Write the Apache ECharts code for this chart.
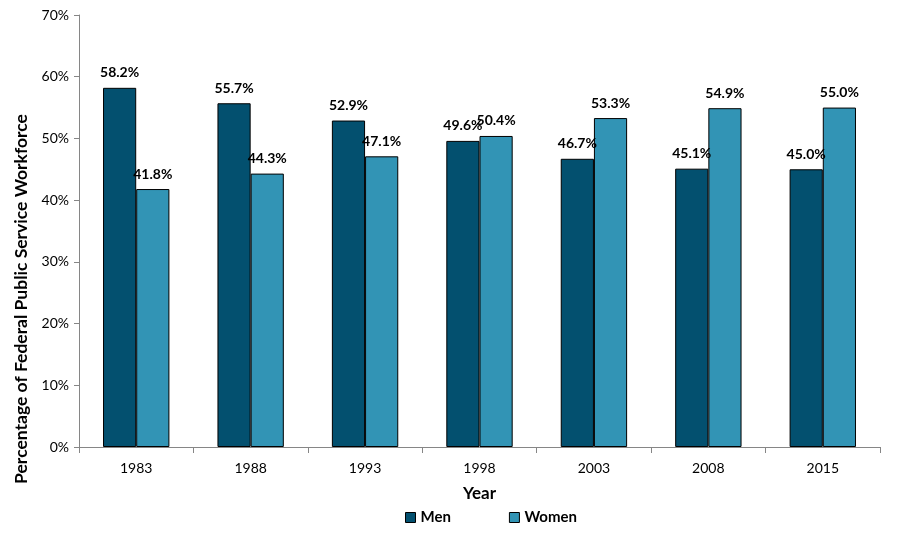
<!DOCTYPE html>
<html><head><meta charset="utf-8">
<script src="https://cdn.jsdelivr.net/npm/echarts@6/dist/echarts.min.js"></script>
<style>html,body{margin:0;padding:0;background:#fff}#c{width:900px;height:549px}</style>
</head><body><div id="c"></div>
<script>
const years = ['1983','1988','1993','1998','2003','2008','2015'];
const men = [58.2, 55.7, 52.9, 49.6, 46.7, 45.1, 45.0];
const women = [41.8, 44.3, 47.1, 50.4, 53.3, 54.9, 55.0];
const FONT = 'Lato';
const chart = echarts.init(document.getElementById('c'));
const lbl = {show:true, position:'top', distance:8, color:'#000', fontFamily:FONT, fontWeight:'bold', fontSize:14,
  formatter: p => p.value.toFixed(1) + '%'};
chart.setOption({
  animation:false,
  textStyle:{fontFamily:FONT},
  grid:{left:79, right:20, top:15, bottom:102, containLabel:false},
  legend:{bottom:19, left:400, itemGap:58, itemWidth:10, itemHeight:10, icon:'rect',
    textStyle:{fontFamily:FONT, fontWeight:'bold', fontSize:15, color:'#000'},
    itemStyle:{borderColor:'#000', borderWidth:1},
    data:['Men','Women']},
  xAxis:{type:'category', data:years, name:'Year', nameLocation:'middle', nameGap:38,
    nameTextStyle:{fontFamily:FONT, fontWeight:'bold', fontSize:17, color:'#000'},
    axisLine:{lineStyle:{color:'#868686'}},
    axisTick:{show:true, length:6, lineStyle:{color:'#868686'}},
    axisLabel:{color:'#000', fontSize:14, margin:14, fontFamily:FONT}},
  yAxis:{type:'value', min:0, max:70, interval:10,
    name:'Percentage of Federal Public Service Workforce', nameLocation:'middle', nameGap:48, nameRotate:90,
    nameTextStyle:{fontFamily:FONT, fontWeight:'bold', fontSize:17.5, color:'#000', padding:[0,136,0,0]},
    axisLine:{show:true, lineStyle:{color:'#868686'}},
    axisTick:{show:true, length:5, lineStyle:{color:'#868686'}},
    splitLine:{show:false},
    axisLabel:{color:'#000', fontSize:14, margin:10, fontFamily:FONT, formatter:'{value}%'}},
  series:[
    {name:'Men', type:'bar', data:men, barGap:'0%', barCategoryGap:'42%',
      itemStyle:{color:'#03506F', borderColor:'#000', borderWidth:1}, label:lbl},
    {name:'Women', type:'bar', data:women,
      itemStyle:{color:'#3294B5', borderColor:'#000', borderWidth:1}, label:lbl}
  ]
});
</script></body></html>
